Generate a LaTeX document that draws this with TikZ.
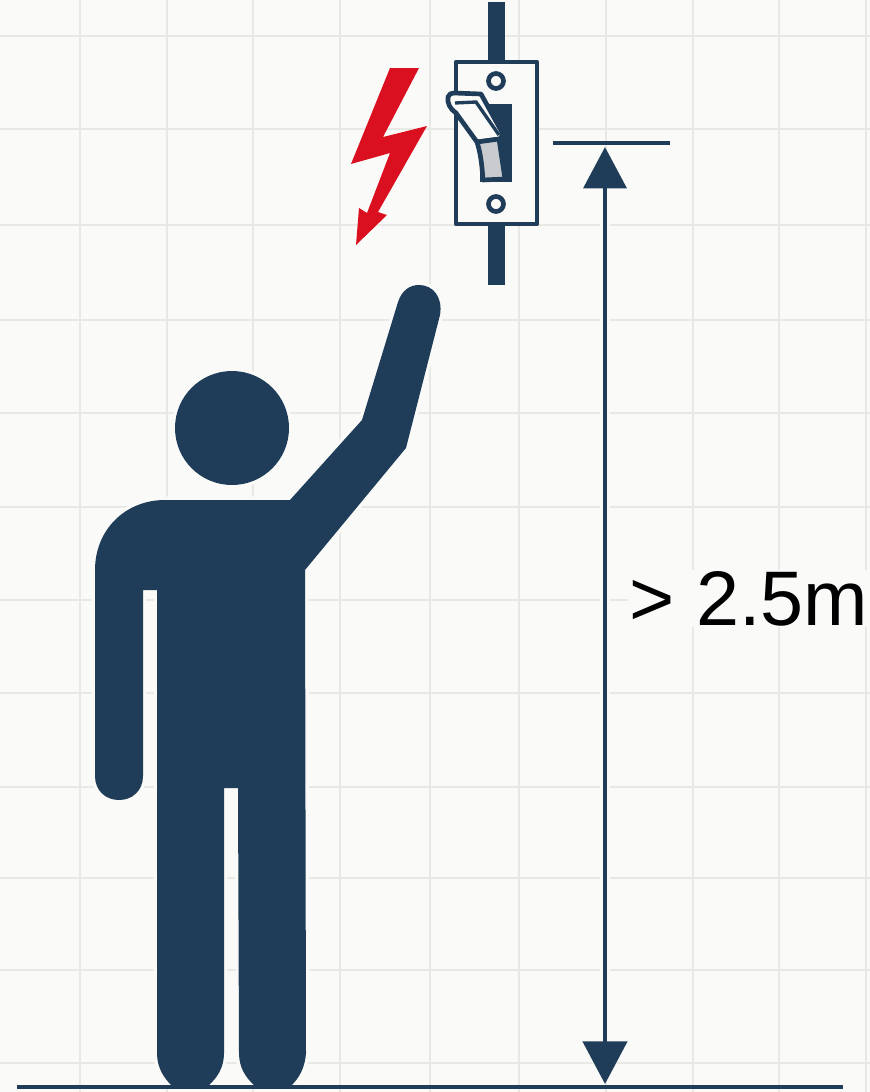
\documentclass[tikz,border=0pt]{standalone}
\usepackage{fontspec}
\setmainfont{Liberation Sans}
\usetikzlibrary{arrows.meta}
\definecolor{paper}{HTML}{FAFAF8}
\definecolor{gridline}{HTML}{E8E8E4}
\definecolor{navy}{HTML}{1F3D58}
\definecolor{boltred}{HTML}{DA1020}
\definecolor{toggle}{HTML}{C9CBCF}
\tikzset{
  person/.style={fill=navy, preaction={draw=paper, line width=5pt}},
  wire/.style={draw=navy, line width=12.5pt},
  outline/.style={draw=navy, line width=3.5pt, line join=round},
  dimension/.style={draw=navy, line width=3.5pt, {Triangle[width=32pt,length=31pt]}-{Triangle[width=33pt,length=32pt]}, preaction={draw=paper, line width=7pt}},
  level/.style={draw=navy, line width=3.7pt},
  gridrule/.style={draw=gridline, line width=1.8pt}
}
\begin{document}
\begin{tikzpicture}[x=0.75pt,y=-0.75pt]
\useasboundingbox[fill=paper] (0,0) rectangle (870,1092);
\foreach \gx in {80,167,253,340,430,519,606,693,779,866} {
  \draw[gridrule] (\gx,0) -- (\gx,1092);
}
\foreach \gy in {36,129,225,320,413,507,600,693,787,878,970,1063} {
  \draw[gridrule] (0,\gy) -- (870,\gy);
}

\coordinate (wire_top_a) at (496.5,2);
\coordinate (wire_top_b) at (496.5,60);
\coordinate (wire_bottom_a) at (496.5,226);
\coordinate (wire_bottom_b) at (496.5,285);
\draw[wire] (wire_top_a) -- (wire_top_b);
\draw[wire] (wire_bottom_a) -- (wire_bottom_b);
\draw[outline, fill=paper] (456,62) rectangle (537,224);
\draw[outline, fill=paper] (496,81) circle[radius=7.5];
\draw[outline, fill=paper] (496,204) circle[radius=7.5];
\fill[navy] (480,104) rectangle (512,182);
\draw[outline, fill=paper] (448,97) .. controls (449,94) and (451,93) .. (454,93) -- (481,94) -- (503,134) -- (500,139) -- (477,142) -- (456,113) .. controls (450,109) and (447,103) .. (448,97) -- cycle;
\draw[outline, fill=toggle] (477,142) -- (499,139) -- (505,179) -- (483,180) .. controls (482,166) and (481,155) .. (477,142) -- cycle;
\draw[navy, line width=2.5pt] (455,103) -- (476,102) -- (499,135);

\fill[boltred] (390,68) -- (419,68) -- (383,137) -- (427,126) -- (378,212) -- (387,215) -- (356,245) -- (359,208) -- (367,213) -- (390,153) -- (351,164) -- cycle;

\fill[person] (232,428) circle[radius=57];
\fill[person] (290,500) -- (362,420) -- (398,302)
  .. controls (402,290) and (410,285) .. (419,285)
  .. controls (433,285) and (443,297) .. (440,315)
  -- (406,448) -- (305,570) -- (306,1053)
  .. controls (305,1068) and (299,1078) .. (291,1086) -- (255,1086)
  .. controls (246,1078) and (239,1068) .. (239,1053)
  -- (238,788) -- (224,788) -- (224,1053)
  .. controls (224,1068) and (217,1078) .. (208,1086) -- (172,1086)
  .. controls (164,1078) and (157,1068) .. (157,1053)
  -- (157,590) -- (143,590) -- (143,776)
  .. controls (143,791) and (132,800) .. (119,800)
  .. controls (106,800) and (95,791) .. (95,776)
  -- (95,570)
  .. controls (95,530) and (125,500) .. (165,500) -- cycle;

\node[fill=paper, inner sep=1pt, anchor=base west, font=\fontsize{58pt}{60pt}\selectfont] (height_label) at (628,625) {> 2.5m};

\coordinate (dim_top) at (605,147);
\coordinate (dim_bottom) at (605,1084);
\draw[dimension] (dim_top) -- (dim_bottom);
\coordinate (tick_left) at (553,143);
\coordinate (tick_right) at (670,143);
\draw[level] (tick_left) -- (tick_right);
\coordinate (ground_left) at (17,1087);
\coordinate (ground_right) at (843,1087);
\draw[level] (ground_left) -- (ground_right);
\end{tikzpicture}
\end{document}
